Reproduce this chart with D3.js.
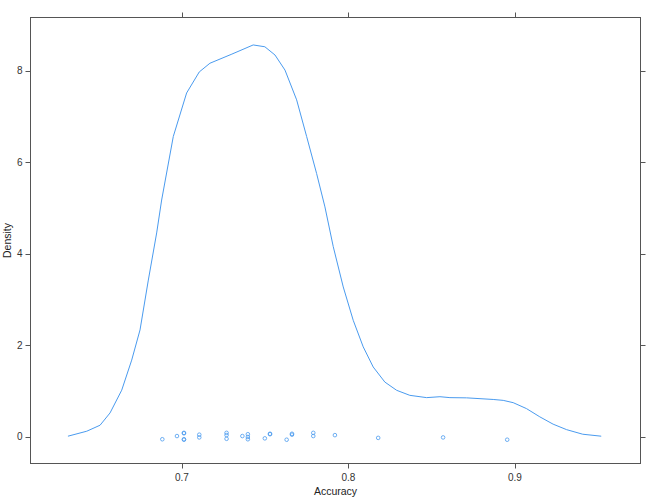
<!DOCTYPE html>
<html><head><meta charset="utf-8">
<script src="https://cdnjs.cloudflare.com/ajax/libs/d3/7.8.5/d3.min.js"></script>
<style>body{margin:0;background:#fff}svg{display:block}text{font-family:"Liberation Sans",Arial,sans-serif}</style>
</head><body><svg id="c" width="650" height="503"></svg>
<script>
// density curve (x = Accuracy, y = Density)
const densX = [0.6315,0.6428,0.6508,0.6568,0.6638,0.6698,0.6748,0.6798,0.6848,0.6878,0.6948,0.7028,0.7104,0.7168,0.7300,0.7428,0.7498,0.7559,0.7619,0.7689,0.7749,0.7809,0.7859,0.7909,0.7969,0.8029,0.8089,0.8149,0.8219,0.8290,0.8369,0.8470,0.8550,0.8610,0.8710,0.8870,0.8930,0.8990,0.9070,0.9150,0.9230,0.9311,0.9408,0.9519];
const densY = [0.007,0.116,0.247,0.516,1.013,1.67,2.33,3.42,4.45,5.17,6.56,7.51,7.97,8.16,8.36,8.56,8.52,8.34,8.01,7.36,6.56,5.75,5.02,4.15,3.27,2.54,1.96,1.52,1.19,1.01,0.90,0.85,0.87,0.85,0.845,0.81,0.79,0.74,0.61,0.43,0.27,0.15,0.05,0.007];
// jittered raw observations
const ptX = [0.6882,0.6970,0.7012,0.7012,0.7012,0.7012,0.7104,0.7104,0.7268,0.7268,0.7268,0.7363,0.7396,0.7396,0.7396,0.7498,0.7529,0.7529,0.7629,0.7661,0.7661,0.7789,0.7789,0.7919,0.8179,0.8569,0.8954];
const ptY = [-0.06,0.01,0.08,0.07,-0.07,-0.06,0.04,-0.02,0.08,0.03,-0.05,0.01,0.05,-0.01,-0.06,-0.04,0.05,0.06,-0.07,0.06,0.04,0.08,0.01,0.03,-0.03,-0.02,-0.07];
const xTicks = [0.7,0.8,0.9];
const yTicks = [0,2,4,6,8];
const xDomain = [0.609,0.9755];
const yDomain = [-0.59,9.16];

const svg = d3.select("#c");
const L=30.5,R=640.5,T=17.5,B=463.5;
const x = d3.scaleLinear().domain(xDomain).range([L,R]);
const y = d3.scaleLinear().domain(yDomain).range([B,T]);
const col="#4a9bef", axc="#555";

// ticks
const tl=5;
svg.append("g").selectAll("line.xb").data(xTicks).join("line")
  .attr("x1",d=>Math.round(x(d))+0.5).attr("x2",d=>Math.round(x(d))+0.5).attr("y1",B).attr("y2",B+tl).attr("stroke",axc);
svg.append("g").selectAll("line.xt").data(xTicks).join("line")
  .attr("x1",d=>Math.round(x(d))+0.5).attr("x2",d=>Math.round(x(d))+0.5).attr("y1",T).attr("y2",T-tl).attr("stroke",axc);
svg.append("g").selectAll("line.yl").data(yTicks).join("line")
  .attr("y1",d=>Math.round(y(d))+0.5).attr("y2",d=>Math.round(y(d))+0.5).attr("x1",L).attr("x2",L-tl).attr("stroke",axc);
svg.append("g").selectAll("line.yr").data(yTicks).join("line")
  .attr("y1",d=>Math.round(y(d))+0.5).attr("y2",d=>Math.round(y(d))+0.5).attr("x1",R).attr("x2",R+tl).attr("stroke",axc);
svg.append("g").selectAll("text").data(xTicks).join("text")
  .attr("x",d=>x(d)).attr("y",B+17).attr("text-anchor","middle").attr("font-size",10).attr("fill","#333")
  .text(d=>d3.format(".1f")(d));
svg.append("g").selectAll("text").data(yTicks).join("text")
  .attr("x",L-8).attr("y",d=>y(d)+3.5).attr("text-anchor","end").attr("font-size",10).attr("fill","#333")
  .text(d=>d);

svg.append("rect").attr("x",L).attr("y",T).attr("width",R-L).attr("height",B-T)
  .attr("fill","none").attr("stroke",axc).attr("stroke-width",1);

// density line
const line = d3.line().x((d,i)=>x(densX[i])).y((d,i)=>y(densY[i]));
svg.append("path").datum(densX).attr("d",line).attr("fill","none").attr("stroke",col).attr("stroke-width",1);

// points
svg.append("g").selectAll("circle").data(ptX).join("circle")
  .attr("cx",(d,i)=>x(ptX[i])).attr("cy",(d,i)=>y(ptY[i])).attr("r",1.8)
  .attr("fill","none").attr("stroke",col).attr("stroke-width",0.8);

svg.append("text").attr("x",(L+R)/2).attr("y",495).attr("text-anchor","middle").attr("font-size",10.5).attr("fill","#222").text("Accuracy");
svg.append("text").attr("transform","translate(11,"+((T+B)/2)+") rotate(-90)").attr("text-anchor","middle").attr("font-size",10.5).attr("fill","#222").text("Density");
</script></body></html>
